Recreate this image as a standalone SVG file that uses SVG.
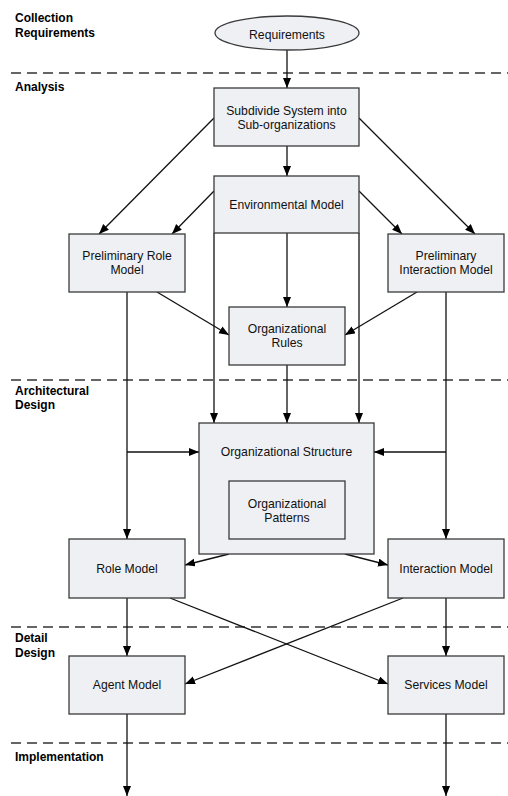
<svg xmlns="http://www.w3.org/2000/svg" width="508" height="796" viewBox="0 0 508 796">
  <style>
    .phase { font-family: "Liberation Sans", Arial, sans-serif; font-size: 12px; font-weight: bold; fill: #000; }
    .box { fill: #eef0f4; stroke: #3a3a3a; stroke-width: 1.3; }
    .lbl { font-family: "Liberation Sans", Arial, sans-serif; font-size: 12.2px; fill: #111; text-anchor: middle; }
    .sep { stroke: #333; stroke-width: 1.3; stroke-dasharray: 10 6; fill: none; }
    .edge { stroke: #111; stroke-width: 1.3; fill: none; marker-end: url(#arrow); }
    .plain { stroke: #111; stroke-width: 1.3; fill: none; }
  </style>
  <defs>
    <marker id="arrow" markerUnits="userSpaceOnUse" markerWidth="11" markerHeight="9" refX="10" refY="4" orient="auto">
      <path d="M0,0 L10,4 L0,8 z" fill="#000"/>
    </marker>
  </defs>
  <rect width="508" height="796" fill="#fff"/>

  <!-- phase separators -->
  <g id="separators">
    <line class="sep" x1="11" y1="73" x2="508" y2="73"/>
    <line class="sep" x1="11" y1="380" x2="508" y2="380"/>
    <line class="sep" x1="11" y1="627" x2="508" y2="627"/>
    <line class="sep" x1="11" y1="743" x2="508" y2="743"/>
  </g>

  <!-- phase names -->
  <g id="phases">
    <text class="phase" x="15" y="22">Collection</text>
    <text class="phase" x="15" y="37">Requirements</text>
    <text class="phase" x="15" y="91">Analysis</text>
    <text class="phase" x="15" y="395">Architectural</text>
    <text class="phase" x="15" y="409">Design</text>
    <text class="phase" x="15" y="642">Detail</text>
    <text class="phase" x="15" y="657">Design</text>
    <text class="phase" x="15" y="761">Implementation</text>
  </g>

  <!-- connectors -->
  <g id="connectors">
    <line class="edge" x1="287" y1="50" x2="287" y2="88"/>
    <line class="edge" x1="287" y1="146" x2="287" y2="176"/>
    <line class="edge" x1="214" y1="118" x2="99" y2="234"/>
    <line class="edge" x1="359" y1="118" x2="475" y2="234"/>
    <line class="edge" x1="214" y1="191" x2="172" y2="234"/>
    <line class="edge" x1="359" y1="191" x2="402" y2="234"/>
    <line class="edge" x1="287" y1="233" x2="287" y2="307"/>
    <line class="edge" x1="157" y1="292" x2="229" y2="335"/>
    <line class="edge" x1="417" y1="292" x2="345" y2="335"/>
    <line class="edge" x1="214" y1="233" x2="214" y2="423"/>
    <line class="edge" x1="359" y1="233" x2="359" y2="423"/>
    <line class="edge" x1="287" y1="365" x2="287" y2="423"/>
    <line class="edge" x1="127" y1="292" x2="127" y2="539"/>
    <line class="edge" x1="127" y1="452" x2="199" y2="452"/>
    <line class="edge" x1="446" y1="292" x2="446" y2="539"/>
    <line class="edge" x1="446" y1="452" x2="374" y2="452"/>
    <line class="edge" x1="229" y1="554" x2="185" y2="565"/>
    <line class="edge" x1="345" y1="554" x2="388" y2="565"/>
    <line class="edge" x1="127" y1="598" x2="127" y2="656"/>
    <line class="edge" x1="446" y1="598" x2="446" y2="656"/>
    <line class="edge" x1="170" y1="598" x2="388" y2="684"/>
    <line class="edge" x1="403" y1="598" x2="185" y2="684"/>
    <line class="edge" x1="127" y1="714" x2="127" y2="796"/>
    <line class="edge" x1="446" y1="714" x2="446" y2="796"/>
  </g>

  <!-- nodes -->
  <g id="requirements">
    <ellipse class="box" cx="287" cy="33" rx="72" ry="17"/>
    <text class="lbl" x="287" y="38.5">Requirements</text>
  </g>
  <g id="subdivide">
    <rect class="box" x="214" y="88" width="145" height="58"/>
    <text class="lbl" x="286.5" y="114.5">Subdivide System into</text>
    <text class="lbl" x="286.5" y="128.5">Sub-organizations</text>
  </g>
  <g id="environmental-model">
    <rect class="box" x="214" y="176" width="145" height="57"/>
    <text class="lbl" x="286.5" y="209">Environmental Model</text>
  </g>
  <g id="preliminary-role-model">
    <rect class="box" x="69" y="234" width="116" height="58"/>
    <text class="lbl" x="127" y="259.5">Preliminary Role</text>
    <text class="lbl" x="127" y="274">Model</text>
  </g>
  <g id="preliminary-interaction-model">
    <rect class="box" x="388" y="234" width="116" height="58"/>
    <text class="lbl" x="446" y="259.5">Preliminary</text>
    <text class="lbl" x="446" y="274">Interaction Model</text>
  </g>
  <g id="organizational-rules">
    <rect class="box" x="229" y="307" width="116" height="58"/>
    <text class="lbl" x="287" y="332.5">Organizational</text>
    <text class="lbl" x="287" y="347">Rules</text>
  </g>
  <g id="organizational-structure">
    <rect class="box" x="199" y="423" width="175" height="131"/>
    <text class="lbl" x="286.5" y="455.5">Organizational Structure</text>
  </g>
  <g id="organizational-patterns">
    <rect class="box" x="229" y="481" width="116" height="58"/>
    <text class="lbl" x="287" y="507.5">Organizational</text>
    <text class="lbl" x="287" y="521.5">Patterns</text>
  </g>
  <g id="role-model">
    <rect class="box" x="69" y="539" width="116" height="59"/>
    <text class="lbl" x="127" y="572.5">Role Model</text>
  </g>
  <g id="interaction-model">
    <rect class="box" x="388" y="539" width="116" height="59"/>
    <text class="lbl" x="446" y="572.5">Interaction Model</text>
  </g>
  <g id="agent-model">
    <rect class="box" x="69" y="656" width="116" height="58"/>
    <text class="lbl" x="127" y="689">Agent Model</text>
  </g>
  <g id="services-model">
    <rect class="box" x="388" y="656" width="116" height="58"/>
    <text class="lbl" x="446" y="689">Services Model</text>
  </g>
</svg>
